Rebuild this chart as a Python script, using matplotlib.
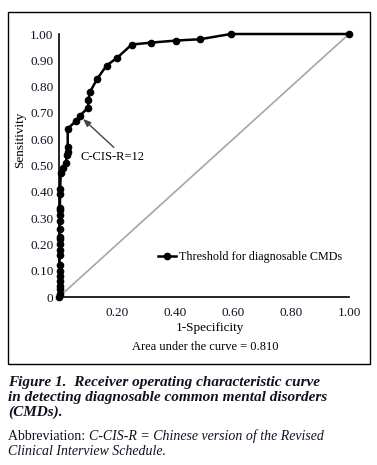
import matplotlib
matplotlib.use("Agg")
import matplotlib.pyplot as plt
from matplotlib.patches import Rectangle

# ---- data ----
fpr = [0.0, 0.002, 0.002, 0.002, 0.002, 0.002, 0.002, 0.002, 0.002, 0.002, 0.002,
       0.002, 0.002, 0.002, 0.002, 0.003, 0.003, 0.003, 0.004, 0.004, 0.006, 0.015,
       0.023, 0.028, 0.030, 0.030, 0.030, 0.059, 0.072, 0.101, 0.101, 0.107, 0.132,
       0.164, 0.201, 0.251, 0.316, 0.402, 0.486, 0.592, 1.0]
tpr = [0.0, 0.01, 0.03, 0.04, 0.06, 0.08, 0.10, 0.12, 0.16, 0.18, 0.20,
       0.22, 0.23, 0.26, 0.29, 0.31, 0.33, 0.34, 0.39, 0.41, 0.47, 0.49,
       0.51, 0.54, 0.55, 0.57, 0.64, 0.67, 0.69, 0.72, 0.75, 0.78, 0.83,
       0.88, 0.91, 0.96, 0.967, 0.975, 0.98, 1.0, 1.0]
ref_x = [0.0, 1.0]
ref_y = [0.0, 1.0]
yticks = [0, 0.1, 0.2, 0.3, 0.4, 0.5, 0.6, 0.7, 0.8, 0.9, 1.0]
ytick_labels = ["0", "0.10", "0.20", "0.30", "0.40", "0.50", "0.60", "0.70", "0.80", "0.90", "1.00"]
xticks = [0.2, 0.4, 0.6, 0.8, 1.0]
xtick_labels = ["0.20", "0.40", "0.60", "0.80", "1.00"]
legend_label = "Threshold for diagnosable CMDs"
annot_label = "C-CIS-R=12"
annot_point = (0.083, 0.677)

plt.rcParams['font.family'] = ['Liberation Serif', 'DejaVu Serif']
W, H = 377, 465
fig = plt.figure(figsize=(W / 100, H / 100), dpi=100)
fig.patch.set_facecolor('white')

# outer frame
fig.patches.append(Rectangle((8 / W, 1 - 364 / H), 362 / W, 352 / H, transform=fig.transFigure,
                             fill=False, edgecolor='black', linewidth=1.0))

ax = fig.add_axes([59 / W, 1 - 297 / H, 290 / W, 263 / H])
ax.set_xlim(0, 1)
ax.set_ylim(0, 1)
for s in ['top', 'right']:
    ax.spines[s].set_visible(False)
for s in ['left', 'bottom']:
    ax.spines[s].set_linewidth(1.2)
    ax.spines[s].set_color('black')

ax.plot(ref_x, ref_y, color='#a6a6a6', linewidth=1.2, zorder=1)
ax.plot(fpr, tpr, color='black', linewidth=1.8, marker='o', markersize=4.5,
        clip_on=False, zorder=3, label=legend_label)

ax.set_yticks(yticks)
ax.set_yticklabels(ytick_labels)
ax.set_xticks(xticks)
ax.set_xticklabels(xtick_labels)
ax.tick_params(axis='both', length=0, labelsize=9.5, colors='#111122')
ax.tick_params(axis='y', pad=4)
ax.tick_params(axis='x', pad=7)

ax.annotate(annot_label, xy=annot_point, xycoords='data',
            xytext=(0.183, 0.532), textcoords='data', ha='center', va='center',
            fontsize=9.0,
            arrowprops=dict(arrowstyle='-|>,head_length=0.5,head_width=0.2', color='#444444',
                            lw=1.0, shrinkA=1, shrinkB=0, relpos=(0.59, 1.0)))

ax.legend(loc='center left', bbox_to_anchor=(0.341, 0.153), frameon=False,
          fontsize=8.7, handlelength=1.5, handletextpad=0.25, borderpad=0, borderaxespad=0)

fig.text(20 / W, 1 - 140 / H, "Sensitivity", rotation=90, ha='center', va='center', fontsize=9.5)
fig.text(210 / W, 1 - 328 / H, "1-Specificity", ha='center', va='center', fontsize=9.5)
fig.text(205 / W, 1 - 347 / H, "Area under the curve = 0.810", ha='center', va='center', fontsize=9)

cap_col = '#111122'
cap_fs = 11.0
fig.text(8 / W, 1 - 382 / H, "Figure 1.  Receiver operating characteristic curve",
         ha='left', va='center', fontsize=cap_fs, fontweight='bold', fontstyle='italic', color=cap_col)
fig.text(8 / W, 1 - 397 / H, "in detecting diagnosable common mental disorders",
         ha='left', va='center', fontsize=cap_fs, fontweight='bold', fontstyle='italic', color=cap_col)
fig.text(8 / W, 1 - 412.5 / H, "(CMDs).",
         ha='left', va='center', fontsize=cap_fs, fontweight='bold', fontstyle='italic', color=cap_col)

t1 = fig.text(8 / W, 1 - 436 / H, "Abbreviation: ", ha='left', va='center', fontsize=10, color=cap_col)
fig.canvas.draw()
r = fig.canvas.get_renderer()
bb = t1.get_window_extent(renderer=r)
fig.text(bb.x1 / W, 1 - 436 / H, "C-CIS-R = Chinese version of the Revised",
         ha='left', va='center', fontsize=10, fontstyle='italic', color=cap_col)
fig.text(8 / W, 1 - 451 / H, "Clinical Interview Schedule.",
         ha='left', va='center', fontsize=10, fontstyle='italic', color=cap_col)

fig.savefig("out.png", dpi=100, facecolor='white')
